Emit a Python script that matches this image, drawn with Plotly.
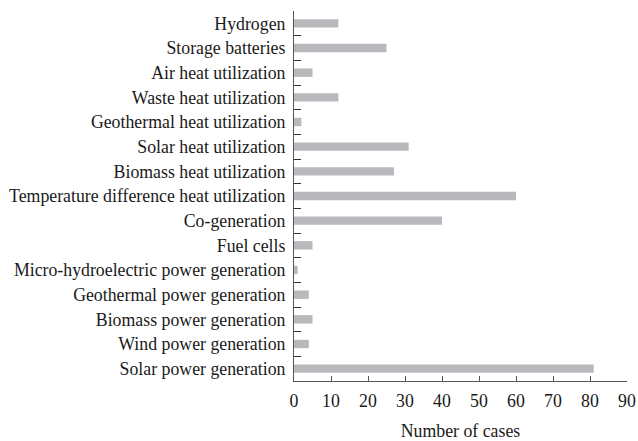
import plotly.graph_objects as go

categories = [
    "Solar power generation",
    "Wind power generation",
    "Biomass power generation",
    "Geothermal power generation",
    "Micro-hydroelectric power generation",
    "Fuel cells",
    "Co-generation",
    "Temperature difference heat utilization",
    "Biomass heat utilization",
    "Solar heat utilization",
    "Geothermal heat utilization",
    "Waste heat utilization",
    "Air heat utilization",
    "Storage batteries",
    "Hydrogen",
]
cases = [81, 4, 5, 4, 1, 5, 40, 60, 27, 31, 2, 12, 5, 25, 12]
x_ticks = [0, 10, 20, 30, 40, 50, 60, 70, 80, 90]

fig = go.Figure(go.Bar(
    x=cases, y=categories, orientation="h",
    marker=dict(color="#b9b9bd", line=dict(width=0)),
    width=0.34,
))

font = dict(family="Liberation Serif, Times New Roman, serif", size=17.8, color="#1a1a1a")
fig.update_layout(
    width=638, height=441,
    margin=dict(l=294, r=11, t=11, b=60, autoexpand=False),
    paper_bgcolor="white", plot_bgcolor="white",
    font=font,
    showlegend=False,
    xaxis=dict(
        range=[0, 90], tickvals=x_ticks, ticks="inside", ticklen=5,
        tickcolor="#555", showline=True, linecolor="#555", linewidth=1,
        showgrid=False, zeroline=False, automargin=False,
        ticklabelstandoff=4,
        title=dict(text="Number of cases", standoff=14, font=font),
        tickfont=font,
    ),
    yaxis=dict(
        type="category", categoryorder="array", categoryarray=categories,
        range=[-0.5, len(categories) - 0.5],
        ticks="inside", ticklen=7, tickcolor="#333", tickson="boundaries",
        showline=True, linecolor="#555", linewidth=1, automargin=False,
        showgrid=False, zeroline=False, ticklabelstandoff=4,
        tickfont=font,
    ),
)

fig.write_html(
    "out.html",
    config={"displayModeBar": False},
    post_script="document.body.style.margin='0';document.body.style.overflow='hidden';",
)
